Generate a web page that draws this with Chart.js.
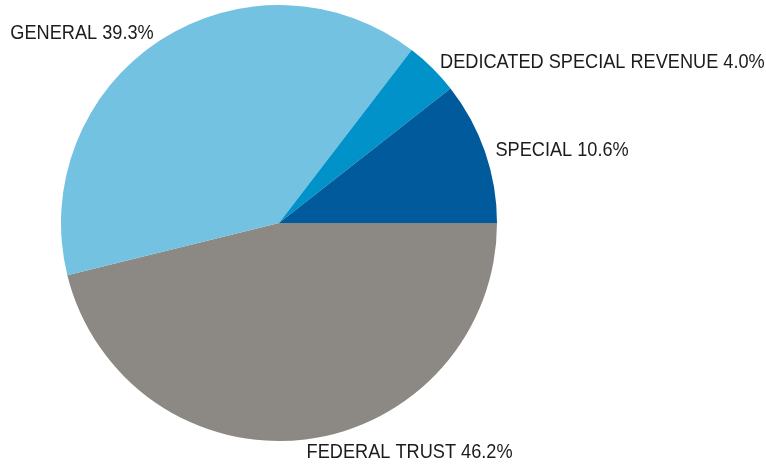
<!DOCTYPE html>
<html>
<head>
<meta charset="utf-8">
<script src="https://cdn.jsdelivr.net/npm/chart.js@4/dist/chart.umd.min.js"></script>
<style>
  html, body { margin: 0; padding: 0; background: #fff; }
  #wrap { width: 766px; height: 465px; position: relative; }
</style>
</head>
<body>
<div id="wrap"><canvas id="pie" width="766" height="465"></canvas></div>
<script>
// drawn clockwise starting at 3 o'clock
const fundNames = ['FEDERAL TRUST', 'GENERAL', 'DEDICATED SPECIAL REVENUE', 'SPECIAL'];
const fundShares = [46.2, 39.3, 4.0, 10.6];
const fundColors = ['#8c8984', '#73c2e1', '#0092c8', '#005a9c'];

// labels sit just outside the rim, anchored by which side of the pie they're on.
// no narrow font installed, so squeeze Liberation Sans horizontally
const outsideLabels = {
  id: 'outsideLabels',
  afterDatasetsDraw(chart) {
    const ctx = chart.ctx;
    const meta = chart.getDatasetMeta(0);
    meta.data.forEach((arc, i) => {
      const mid = (arc.startAngle + arc.endAngle) / 2;
      const cos = Math.cos(mid), sin = Math.sin(mid);
      const r = arc.outerRadius + 11;
      ctx.save();
      ctx.translate(arc.x + cos * r, arc.y + sin * r + 2);
      ctx.scale(0.865, 1);
      ctx.font = '21px "Liberation Sans", Arial, sans-serif';
      ctx.fillStyle = '#1e1b1c';
      ctx.textAlign = cos >= 0 ? 'left' : 'right';
      ctx.textBaseline = 'middle';
      ctx.fillText(fundNames[i] + ' ' + fundShares[i].toFixed(1) + '%', 0, 0);
      ctx.restore();
    });
  }
};

new Chart(document.getElementById('pie').getContext('2d'), {
  type: 'pie',
  data: {
    labels: fundNames,
    datasets: [{
      data: fundShares,
      backgroundColor: fundColors,
      borderWidth: 0
    }]
  },
  options: {
    responsive: false,
    animation: false,
    rotation: 90,
    layout: { padding: { top: 5, bottom: 24, left: 61, right: 269 } },
    plugins: {
      legend: { display: false },
      tooltip: { enabled: false }
    }
  },
  plugins: [outsideLabels]
});
</script>
</body>
</html>
